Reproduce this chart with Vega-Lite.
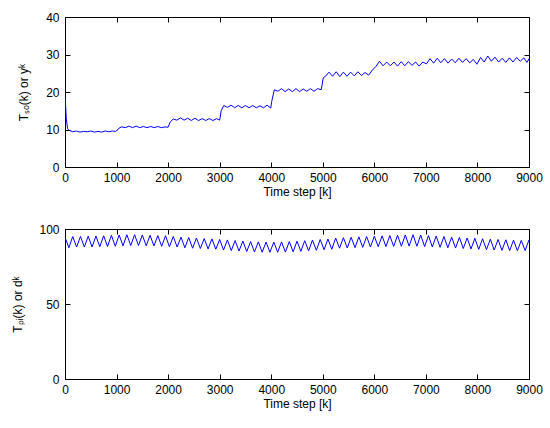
{
  "$schema": "https://vega.github.io/schema/vega-lite/v6.json",
  "autosize": {"type": "none"},
  "padding": {"left": 65, "top": 17, "right": 485, "bottom": 411},
  "background": "white",
  "spacing": 62,
  "bounds": "flush",
  "config": {
    "view": {"stroke": "black", "strokeWidth": 1},
    "axis": {
      "labelFont": "Liberation Sans", "labelFontSize": 12, "labelColor": "black",
      "titleFont": "Liberation Sans", "titleFontSize": 12, "titleFontWeight": "normal", "titleColor": "black",
      "tickColor": "black", "domainColor": "black", "grid": false, "format": "d", "labelFlush": false,
      "tickSize": -5, "labelPadding": 10, "titlePadding": 3
    },
    "axisY": {"labelPadding": 11}
  },
  "datasets": {
    "top": [
      {"k": 0, "v": 18.5}, {"k": 10, "v": 17}, {"k": 25, "v": 13}, {"k": 50, "v": 10.2}, {"k": 80, "v": 9.8},
      {"k": 150, "v": 9.4}, {"k": 220, "v": 9.6}, {"k": 290, "v": 9.3}, {"k": 360, "v": 9.5}, {"k": 430, "v": 9.4},
      {"k": 500, "v": 9.6}, {"k": 570, "v": 9.3}, {"k": 640, "v": 9.5}, {"k": 710, "v": 9.3}, {"k": 780, "v": 9.6},
      {"k": 850, "v": 9.4}, {"k": 920, "v": 9.6}, {"k": 980, "v": 9.5}, {"k": 1000, "v": 9.6}, {"k": 1050, "v": 10.4},
      {"k": 1100, "v": 10.7}, {"k": 1170, "v": 10.5}, {"k": 1240, "v": 10.9}, {"k": 1310, "v": 10.5}, {"k": 1380, "v": 10.9},
      {"k": 1450, "v": 10.5}, {"k": 1520, "v": 10.8}, {"k": 1590, "v": 10.5}, {"k": 1660, "v": 10.8}, {"k": 1730, "v": 10.5},
      {"k": 1800, "v": 10.8}, {"k": 1870, "v": 10.5}, {"k": 1940, "v": 10.7}, {"k": 2000, "v": 10.6}, {"k": 2040, "v": 12.0},
      {"k": 2100, "v": 12.8}, {"k": 2170, "v": 12.5}, {"k": 2240, "v": 13.1}, {"k": 2310, "v": 12.5}, {"k": 2380, "v": 13.0},
      {"k": 2450, "v": 12.4}, {"k": 2520, "v": 13.0}, {"k": 2590, "v": 12.4}, {"k": 2660, "v": 12.9}, {"k": 2730, "v": 12.4},
      {"k": 2800, "v": 12.9}, {"k": 2870, "v": 12.4}, {"k": 2940, "v": 12.9}, {"k": 3000, "v": 12.5}, {"k": 3030, "v": 15.0},
      {"k": 3080, "v": 16.4}, {"k": 3150, "v": 15.9}, {"k": 3220, "v": 16.5}, {"k": 3290, "v": 15.8}, {"k": 3360, "v": 16.4},
      {"k": 3430, "v": 15.8}, {"k": 3500, "v": 16.4}, {"k": 3570, "v": 15.8}, {"k": 3640, "v": 16.4}, {"k": 3710, "v": 15.8},
      {"k": 3780, "v": 16.3}, {"k": 3850, "v": 15.8}, {"k": 3920, "v": 16.5}, {"k": 3990, "v": 15.7}, {"k": 4010, "v": 17.5},
      {"k": 4060, "v": 20.6}, {"k": 4130, "v": 20.2}, {"k": 4200, "v": 20.9}, {"k": 4270, "v": 20.1}, {"k": 4340, "v": 20.8},
      {"k": 4410, "v": 20.1}, {"k": 4480, "v": 20.9}, {"k": 4550, "v": 20.1}, {"k": 4620, "v": 20.8}, {"k": 4690, "v": 20.2},
      {"k": 4760, "v": 20.9}, {"k": 4830, "v": 20.2}, {"k": 4900, "v": 20.9}, {"k": 4970, "v": 20.6}, {"k": 5010, "v": 23.8},
      {"k": 5060, "v": 24.3}, {"k": 5120, "v": 25.3}, {"k": 5190, "v": 24.2}, {"k": 5260, "v": 25.4}, {"k": 5330, "v": 24.1},
      {"k": 5400, "v": 25.3}, {"k": 5470, "v": 24.2}, {"k": 5540, "v": 25.3}, {"k": 5610, "v": 24.3}, {"k": 5680, "v": 25.4},
      {"k": 5750, "v": 24.4}, {"k": 5820, "v": 25.2}, {"k": 5890, "v": 24.5}, {"k": 5960, "v": 25.8}, {"k": 6030, "v": 26.8},
      {"k": 6100, "v": 28.2}, {"k": 6170, "v": 27.0}, {"k": 6240, "v": 28.0}, {"k": 6310, "v": 27.0}, {"k": 6380, "v": 28.0},
      {"k": 6450, "v": 26.9}, {"k": 6520, "v": 28.1}, {"k": 6590, "v": 27.0}, {"k": 6660, "v": 28.1}, {"k": 6730, "v": 27.1},
      {"k": 6800, "v": 28.0}, {"k": 6870, "v": 26.9}, {"k": 6940, "v": 28.0}, {"k": 7010, "v": 27.5}, {"k": 7080, "v": 28.9},
      {"k": 7150, "v": 27.7}, {"k": 7220, "v": 29.0}, {"k": 7290, "v": 27.8}, {"k": 7360, "v": 28.9}, {"k": 7430, "v": 27.7},
      {"k": 7500, "v": 28.8}, {"k": 7570, "v": 27.8}, {"k": 7640, "v": 29.0}, {"k": 7710, "v": 27.9}, {"k": 7780, "v": 28.9},
      {"k": 7850, "v": 27.8}, {"k": 7920, "v": 28.7}, {"k": 7990, "v": 27.4}, {"k": 8060, "v": 29.2}, {"k": 8130, "v": 28.0},
      {"k": 8200, "v": 29.6}, {"k": 8270, "v": 28.2}, {"k": 8340, "v": 29.3}, {"k": 8410, "v": 28.0}, {"k": 8480, "v": 29.0},
      {"k": 8550, "v": 27.9}, {"k": 8620, "v": 29.1}, {"k": 8690, "v": 28.0}, {"k": 8760, "v": 29.2}, {"k": 8830, "v": 28.2},
      {"k": 8900, "v": 29.1}, {"k": 8960, "v": 27.9}, {"k": 9000, "v": 28.9}
    ],
    "bot": [
      {"k": 0, "v": 94.5}, {"k": 75, "v": 87.5}, {"k": 150, "v": 95}, {"k": 225, "v": 88}, {"k": 300, "v": 95},
      {"k": 375, "v": 88}, {"k": 450, "v": 95.2}, {"k": 525, "v": 88}, {"k": 600, "v": 95.3}, {"k": 675, "v": 88.2},
      {"k": 750, "v": 95.5}, {"k": 825, "v": 88.3}, {"k": 900, "v": 95.8}, {"k": 975, "v": 88.5}, {"k": 1050, "v": 96},
      {"k": 1125, "v": 88.8}, {"k": 1200, "v": 96.2}, {"k": 1275, "v": 89}, {"k": 1350, "v": 96.2}, {"k": 1425, "v": 89},
      {"k": 1500, "v": 96}, {"k": 1575, "v": 88.8}, {"k": 1650, "v": 95.8}, {"k": 1725, "v": 88.7}, {"k": 1800, "v": 95.6},
      {"k": 1875, "v": 88.5}, {"k": 1950, "v": 95.5}, {"k": 2025, "v": 88.2}, {"k": 2100, "v": 95}, {"k": 2175, "v": 88},
      {"k": 2250, "v": 94.6}, {"k": 2325, "v": 87.5}, {"k": 2400, "v": 94.3}, {"k": 2475, "v": 87.2}, {"k": 2550, "v": 94},
      {"k": 2625, "v": 87}, {"k": 2700, "v": 93.6}, {"k": 2775, "v": 86.7}, {"k": 2850, "v": 93.4}, {"k": 2925, "v": 86.5},
      {"k": 3000, "v": 93}, {"k": 3075, "v": 86}, {"k": 3150, "v": 92.7}, {"k": 3225, "v": 85.6}, {"k": 3300, "v": 92.3},
      {"k": 3375, "v": 85.3}, {"k": 3450, "v": 92}, {"k": 3525, "v": 85}, {"k": 3600, "v": 91.6}, {"k": 3675, "v": 84.7},
      {"k": 3750, "v": 91.4}, {"k": 3825, "v": 84.5}, {"k": 3900, "v": 91.3}, {"k": 3975, "v": 84.5}, {"k": 4050, "v": 91.3},
      {"k": 4125, "v": 84.5}, {"k": 4200, "v": 91.4}, {"k": 4275, "v": 84.6}, {"k": 4350, "v": 91.6}, {"k": 4425, "v": 84.8},
      {"k": 4500, "v": 91.9}, {"k": 4575, "v": 85.1}, {"k": 4650, "v": 92.2}, {"k": 4725, "v": 85.4}, {"k": 4800, "v": 92.6},
      {"k": 4875, "v": 85.8}, {"k": 4950, "v": 93}, {"k": 5025, "v": 86.2}, {"k": 5100, "v": 93.3}, {"k": 5175, "v": 86.5},
      {"k": 5250, "v": 94}, {"k": 5325, "v": 87.2}, {"k": 5400, "v": 94.2}, {"k": 5475, "v": 87.4}, {"k": 5550, "v": 94.5},
      {"k": 5625, "v": 87.6}, {"k": 5700, "v": 94.8}, {"k": 5775, "v": 87.8}, {"k": 5850, "v": 95}, {"k": 5925, "v": 88},
      {"k": 6000, "v": 95.2}, {"k": 6075, "v": 88.2}, {"k": 6150, "v": 95.4}, {"k": 6225, "v": 88.3}, {"k": 6300, "v": 95.6},
      {"k": 6375, "v": 88.4}, {"k": 6450, "v": 95.8}, {"k": 6525, "v": 88.5}, {"k": 6600, "v": 96}, {"k": 6675, "v": 88.6},
      {"k": 6750, "v": 96.2}, {"k": 6825, "v": 88.5}, {"k": 6900, "v": 96}, {"k": 6975, "v": 88.3}, {"k": 7050, "v": 95.6},
      {"k": 7125, "v": 88}, {"k": 7200, "v": 95.3}, {"k": 7275, "v": 87.8}, {"k": 7350, "v": 95}, {"k": 7425, "v": 87.5},
      {"k": 7500, "v": 94.6}, {"k": 7575, "v": 87.3}, {"k": 7650, "v": 94.4}, {"k": 7725, "v": 87}, {"k": 7800, "v": 94},
      {"k": 7875, "v": 86.7}, {"k": 7950, "v": 93.8}, {"k": 8025, "v": 86.4}, {"k": 8100, "v": 93.5}, {"k": 8175, "v": 86.2},
      {"k": 8250, "v": 93.2}, {"k": 8325, "v": 86}, {"k": 8400, "v": 93}, {"k": 8475, "v": 85.8}, {"k": 8550, "v": 92.8},
      {"k": 8625, "v": 85.6}, {"k": 8700, "v": 92.6}, {"k": 8775, "v": 85.5}, {"k": 8850, "v": 92.4}, {"k": 8925, "v": 85.6},
      {"k": 9000, "v": 92.8}
    ]
  },
  "vconcat": [
    {
      "width": 464, "height": 150,
      "data": {"name": "top"},
      "layer": [
        {
          "mark": {"type": "line", "color": "#0000ff", "strokeWidth": 1, "clip": true},
          "encoding": {
            "x": {"field": "k", "type": "quantitative", "scale": {"domain": [0, 9000], "nice": false},
                  "axis": {"values": [0, 1000, 2000, 3000, 4000, 5000, 6000, 7000, 8000, 9000], "title": "Time step [k]"}},
            "y": {"field": "v", "type": "quantitative", "scale": {"domain": [0, 40], "nice": false},
                  "axis": {"values": [0, 10, 20, 30, 40], "title": "Tₛₒ(k) or yᵏ", "titlePadding": 15}}
          }
        },
        {
          "mark": {"type": "line", "opacity": 0},
          "encoding": {
            "x": {"field": "k", "type": "quantitative",
                  "axis": {"orient": "top", "values": [0, 1000, 2000, 3000, 4000, 5000, 6000, 7000, 8000, 9000], "labels": false, "title": null, "domain": false}},
            "y": {"field": "v", "type": "quantitative",
                  "axis": {"orient": "right", "values": [0, 10, 20, 30, 40], "labels": false, "title": null, "domain": false}}
          }
        }
      ],
      "resolve": {"axis": {"x": "independent", "y": "independent"}}
    },
    {
      "width": 464, "height": 150,
      "data": {"name": "bot"},
      "layer": [
        {
          "mark": {"type": "line", "color": "#0000ff", "strokeWidth": 1, "clip": true},
          "encoding": {
            "x": {"field": "k", "type": "quantitative", "scale": {"domain": [0, 9000], "nice": false},
                  "axis": {"values": [0, 1000, 2000, 3000, 4000, 5000, 6000, 7000, 8000, 9000], "title": "Time step [k]"}},
            "y": {"field": "v", "type": "quantitative", "scale": {"domain": [0, 100], "nice": false},
                  "axis": {"values": [0, 50, 100], "title": "Tₚᵢ(k) or dᵏ", "titlePadding": 14}}
          }
        },
        {
          "mark": {"type": "line", "opacity": 0},
          "encoding": {
            "x": {"field": "k", "type": "quantitative",
                  "axis": {"orient": "top", "values": [0, 1000, 2000, 3000, 4000, 5000, 6000, 7000, 8000, 9000], "labels": false, "title": null, "domain": false}},
            "y": {"field": "v", "type": "quantitative",
                  "axis": {"orient": "right", "values": [0, 50, 100], "labels": false, "title": null, "domain": false}}
          }
        }
      ],
      "resolve": {"axis": {"x": "independent", "y": "independent"}}
    }
  ]
}
